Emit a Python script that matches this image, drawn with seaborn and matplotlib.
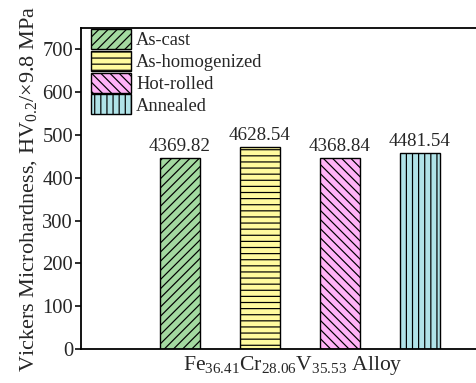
import matplotlib
matplotlib.use("Agg")
import matplotlib.pyplot as plt
from matplotlib.patches import Patch
import seaborn as sns
import pandas as pd

# Microhardness of Fe36.41Cr28.06V35.53 in four processing states
conditions = ["As-cast", "As-homogenized", "Hot-rolled", "Annealed"]
hardness_mpa = [4369.82, 4628.54, 4368.84, 4481.54]
colors = ["#A3D9A0", "#FFFA9E", "#FFB3F7", "#B0E3E8"]
hatches = ["////", "---", "\\\\\\\\", "|||"]
yticks = [0, 100, 200, 300, 400, 500, 600, 700]

# bars are plotted in HV (MPa / 9.8)
df = pd.DataFrame({"condition": conditions,
                   "hv": [v / 9.8 for v in hardness_mpa]})

DPI = 110
W, H = 476, 383


def pt(px):
    """Convert a size in pixels to points at the output resolution."""
    return px * 72.0 / DPI


sns.set_theme(style="ticks")
plt.rcParams["font.family"] = ["Liberation Serif", "DejaVu Serif"]
plt.rcParams["mathtext.fontset"] = "custom"
plt.rcParams["mathtext.rm"] = "Liberation Serif"
plt.rcParams["mathtext.it"] = "Liberation Serif:italic"
plt.rcParams["hatch.linewidth"] = pt(1.2)

fig = plt.figure(figsize=(W / DPI, H / DPI), dpi=DPI)
ax = fig.add_axes([81 / W, 1 - 349 / H, (505 - 81) / W, (349 - 28) / H])

sns.barplot(data=df, x="condition", y="hv", hue="condition",
            palette=colors, width=0.5, legend=False, ax=ax,
            edgecolor="black", linewidth=pt(1.4), saturation=1)

for patch, h in zip(ax.patches, hatches):
    patch.set_hatch(h)

for cont, lab in zip(ax.containers, hardness_mpa):
    ax.bar_label(cont, labels=[f"{lab:.2f}"], padding=pt(3), fontsize=pt(19))

ax.set_xlim(-1.24, 4.07)
ax.set_ylim(0, 750)
ax.set_yticks(yticks)
ax.set_xticks([])
ax.tick_params(axis="y", labelsize=pt(20.5), length=pt(6), width=pt(1.6),
               direction="out", color="black", pad=pt(2))
for s in ax.spines.values():
    s.set_linewidth(pt(1.8))
    s.set_color("black")

ax.set_xlabel("Fe$_{36.41}$Cr$_{28.06}$V$_{35.53}$ Alloy", fontsize=pt(21.6),
              labelpad=pt(5))
ax.set_ylabel("Vickers Microhardness, HV$_{0.2}$/×9.8 MPa", fontsize=pt(22.3),
              labelpad=pt(3))

handles = [Patch(facecolor=c, edgecolor="black", hatch=h, linewidth=pt(1.4))
           for c, h in zip(colors, hatches)]
ax.legend(handles, conditions, loc="upper left", frameon=False, fontsize=pt(18.5),
          handlelength=2.16, handleheight=1.3, handletextpad=0.28,
          labelspacing=0.08, borderaxespad=0, borderpad=0,
          bbox_to_anchor=(91 / W, 1 - 29 / H), bbox_transform=fig.transFigure)

fig.savefig("out.png", dpi=DPI, facecolor="white")
